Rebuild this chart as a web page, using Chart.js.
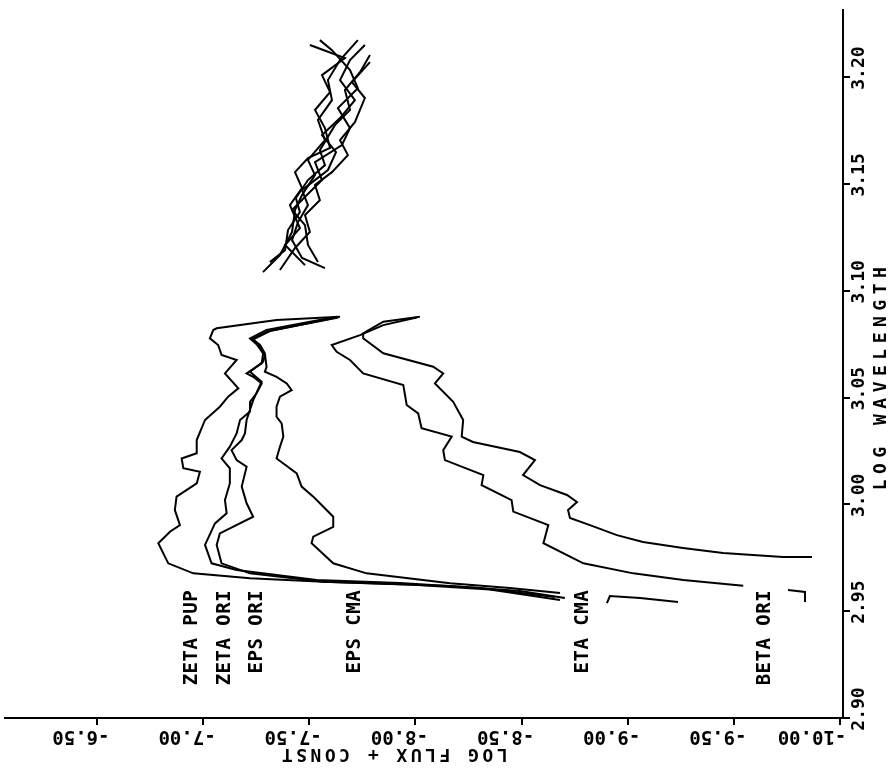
<!DOCTYPE html>
<html>
<head>
<meta charset="utf-8">
<script src="https://cdn.jsdelivr.net/npm/chart.js@4/dist/chart.umd.min.js"></script>
<style>
html,body{margin:0;padding:0;background:#fff;}
canvas{display:block;}
</style>
</head>
<body>
<canvas id="c" width="892" height="775"></canvas>
<script>
// ---- axis ticks ----
const fluxTicks = [-6.5, -7.0, -7.5, -8.0, -8.5, -9.0, -9.5, -10.0];
const fluxTickLabels = ['-6.50', '-7.00', '-7.50', '-8.00', '-8.50', '-9.00', '-9.50', '-10.00'];
const wavTicks = [2.90, 2.95, 3.00, 3.05, 3.10, 3.15, 3.20];
const wavTickLabels = ['2.90', '2.95', '3.00', '3.05', '3.10', '3.15', '3.20'];

// ---- star names and label anchors ----
const starNames = ['ZETA PUP', 'ZETA ORI', 'EPS ORI', 'EPS CMA', 'ETA CMA', 'BETA ORI'];
const labelFlux = [-6.947, -7.103, -7.254, -7.715, -8.789, -9.647];
const labelWav = 2.960;

// ---- short-wavelength spectra ----
const zetaPupWav = [3.0878,3.0863,3.0824,3.0816,3.0777,3.0746,3.0699,3.0676,3.0613,3.0543,3.0504,3.0457,3.0395,3.0301,3.0239,3.0215,3.0169,3.0153,3.0098,3.0036,2.9973,2.9903,2.9872,2.9818,2.9724,2.9677,2.9654,2.9638,2.9618,2.9594,2.9562];
const zetaPupFlux = [-7.645,-7.346,-7.064,-7.048,-7.032,-7.071,-7.087,-7.158,-7.103,-7.166,-7.118,-7.079,-7.009,-6.970,-6.970,-6.899,-6.907,-6.985,-6.970,-6.875,-6.867,-6.891,-6.844,-6.789,-6.836,-6.954,-7.221,-7.566,-8.163,-8.492,-8.704];

const zetaOriWav = [3.0878,3.0816,3.0777,3.0750,3.0707,3.0660,3.0613,3.0597,3.0566,3.0520,3.0480,3.0434,3.0395,3.0332,3.0270,3.0215,3.0169,3.0098,3.0020,2.9958,2.9911,2.9810,2.9724,2.9693,2.9646,2.9632,2.9608,2.9566];
const zetaOriFlux = [-7.629,-7.299,-7.221,-7.252,-7.283,-7.276,-7.205,-7.236,-7.276,-7.252,-7.221,-7.221,-7.174,-7.158,-7.126,-7.087,-7.126,-7.126,-7.103,-7.111,-7.056,-7.009,-7.040,-7.158,-7.535,-7.927,-8.304,-8.657];

const epsOriWav = [3.0875,3.0813,3.0774,3.0750,3.0699,3.0668,3.0621,3.0601,3.0574,3.0488,3.0395,3.0332,3.0301,3.0254,3.0207,3.0176,3.0083,3.0005,2.9942,2.9864,2.9810,2.9724,2.9677,2.9638,2.9625,2.9601,2.9552];
const epsOriFlux = [-7.637,-7.315,-7.229,-7.260,-7.291,-7.283,-7.221,-7.244,-7.276,-7.236,-7.205,-7.197,-7.182,-7.134,-7.158,-7.205,-7.182,-7.205,-7.236,-7.079,-7.064,-7.087,-7.221,-7.566,-7.974,-8.351,-8.681];

const epsCmaWav = [3.0873,3.0811,3.0772,3.0746,3.0707,3.0644,3.0621,3.0597,3.0566,3.0535,3.0504,3.0457,3.0410,3.0379,3.0317,3.0270,3.0215,3.0145,3.0083,3.0036,3.0005,2.9942,2.9895,2.9849,2.9818,2.9724,2.9677,2.9631,2.9608,2.9585];
const epsCmaFlux = [-7.621,-7.315,-7.236,-7.268,-7.291,-7.299,-7.291,-7.346,-7.394,-7.417,-7.362,-7.346,-7.346,-7.370,-7.378,-7.362,-7.346,-7.441,-7.464,-7.519,-7.550,-7.613,-7.613,-7.519,-7.511,-7.613,-7.770,-8.163,-8.445,-8.681];

const etaCmaWav = [3.0875,3.0839,3.0792,3.0746,3.0714,3.0676,3.0613,3.0558,3.0465,3.0426,3.0356,3.0317,3.0254,3.0207,3.0137,3.0090,3.0020,2.9966,2.9903,2.9818,2.9724,2.9677,2.9646,2.9619];
const etaCmaFlux = [-8.006,-7.849,-7.739,-7.606,-7.629,-7.692,-7.754,-7.943,-7.959,-8.013,-8.029,-8.171,-8.131,-8.139,-8.320,-8.312,-8.453,-8.461,-8.626,-8.603,-8.791,-9.026,-9.262,-9.544];
const etaCmaFragWav = [2.9538,2.9571,2.9562,2.9543];
const etaCmaFragFlux = [-8.902,-8.916,-9.058,-9.237];

const betaOriWav = [3.0878,3.0855,3.0800,3.0777,3.0707,3.0644,3.0613,3.0566,3.0480,3.0395,3.0317,3.0292,3.0245,3.0207,3.0137,3.0090,3.0044,3.0011,2.9973,2.9936,2.9903,2.9856,2.9824,2.9796,2.9772,2.9754,2.9754];
const betaOriFlux = [-8.021,-7.849,-7.754,-7.754,-7.849,-8.084,-8.131,-8.092,-8.178,-8.225,-8.218,-8.271,-8.492,-8.563,-8.507,-8.587,-8.714,-8.761,-8.719,-8.728,-8.822,-8.949,-9.072,-9.260,-9.449,-9.731,-9.868];
const betaOriFragWav = [2.9599,2.9590,2.9543];
const betaOriFragFlux = [-9.755,-9.835,-9.835];

// ---- long-wavelength spectra (overlapping) ----
const zetaPupLongWav = [3.1087,3.1167,3.1275,3.1378,3.1448,3.1541,3.1612,3.1705,3.1799,3.1892,3.1986,3.2080,3.2173];
const zetaPupLongFlux = [-7.282,-7.362,-7.419,-7.433,-7.466,-7.527,-7.494,-7.574,-7.541,-7.607,-7.588,-7.645,-7.729];
const zetaOriLongWav = [3.1134,3.1190,3.1284,3.1368,3.1434,3.1518,3.1588,3.1658,3.1775,3.1846,3.1939,3.2023,3.2103];
const zetaOriLongFlux = [-7.315,-7.386,-7.400,-7.456,-7.437,-7.494,-7.574,-7.550,-7.621,-7.692,-7.668,-7.739,-7.786];
const epsOriLongWav = [3.1106,3.1153,3.1237,3.1321,3.1401,3.1471,3.1565,3.1649,3.1729,3.1808,3.1892,3.1986,3.2080,3.2150];
const epsOriLongFlux = [-7.574,-7.466,-7.419,-7.447,-7.494,-7.466,-7.588,-7.626,-7.560,-7.645,-7.715,-7.645,-7.692,-7.762];
const epsCmaLongWav = [3.1134,3.1214,3.1307,3.1378,3.1462,3.1518,3.1602,3.1682,3.1761,3.1855,3.1948,3.2033,3.2126,3.2173];
const epsCmaLongFlux = [-7.541,-7.494,-7.480,-7.419,-7.503,-7.560,-7.527,-7.654,-7.692,-7.635,-7.729,-7.692,-7.607,-7.550];
const etaCmaLongWav = [3.1097,3.1200,3.1275,3.1354,3.1424,3.1495,3.1555,3.1635,3.1705,3.1789,3.1902,3.1977,3.2070];
const etaCmaLongFlux = [-7.362,-7.433,-7.503,-7.480,-7.550,-7.527,-7.607,-7.682,-7.645,-7.715,-7.762,-7.701,-7.786];
const betaOriLongWav = [3.1120,3.1214,3.1293,3.1401,3.1480,3.1555,3.1621,3.1668,3.1761,3.1846,3.1930,3.2009,3.2089,3.2150];
const betaOriLongFlux = [-7.480,-7.386,-7.456,-7.409,-7.466,-7.433,-7.494,-7.598,-7.574,-7.527,-7.598,-7.560,-7.668,-7.503];

const segments = [
  [zetaPupFlux, zetaPupWav], [zetaOriFlux, zetaOriWav], [epsOriFlux, epsOriWav],
  [epsCmaFlux, epsCmaWav], [etaCmaFlux, etaCmaWav], [betaOriFlux, betaOriWav],
  [etaCmaFragFlux, etaCmaFragWav], [betaOriFragFlux, betaOriFragWav],
  [zetaPupLongFlux, zetaPupLongWav], [zetaOriLongFlux, zetaOriLongWav], [epsOriLongFlux, epsOriLongWav],
  [epsCmaLongFlux, epsCmaLongWav], [etaCmaLongFlux, etaCmaLongWav], [betaOriLongFlux, betaOriLongWav]
];

const FONT = '"DejaVu Sans Mono", "Liberation Mono", monospace';

function drawRot(c, text, x, y, ang, align, spacing) {
  c.save();
  c.translate(x, y);
  c.rotate(ang);
  c.textAlign = align;
  c.textBaseline = 'middle';
  if ('letterSpacing' in c) c.letterSpacing = spacing || '0px';
  c.fillText(text, 0, 0);
  c.restore();
}

const textPlugin = {
  id: 'rotatedText',
  afterDraw(chart) {
    const c = chart.ctx;
    const xs = chart.scales.x, ys = chart.scales.y;
    c.save();
    c.fillStyle = '#000';
    // bottom tick labels (upside down)
    c.font = 'bold 19px ' + FONT;
    fluxTicks.forEach((v, i) => {
      const lab = fluxTickLabels[i];
      const px = xs.getPixelForValue(v);
      drawRot(c, lab, px - 16 - (lab.length - 5) * 12, 736, Math.PI, 'center');
    });
    // right tick labels (reading upward)
    c.font = 'bold 18px ' + FONT;
    wavTicks.forEach((v, i) => {
      const py = ys.getPixelForValue(v);
      drawRot(c, wavTickLabels[i], 859, py - 9, -Math.PI / 2, 'center');
    });
    // axis titles
    c.font = 'bold 18px ' + FONT;
    drawRot(c, 'LOG FLUX + CONST', 393, 754, Math.PI, 'center', '3.5px');
    drawRot(c, 'LOG WAVELENGTH', 881, 376, -Math.PI / 2, 'center', '5.5px');
    // star labels
    c.font = 'bold 19px ' + FONT;
    starNames.forEach((n, i) => {
      drawRot(c, n, xs.getPixelForValue(labelFlux[i]), ys.getPixelForValue(labelWav), -Math.PI / 2, 'right', '0.5px');
    });
    c.restore();
  }
};

new Chart(document.getElementById('c'), {
  type: 'scatter',
  data: {
    datasets: segments.map(([f, w]) => ({
      data: f.map((v, i) => ({ x: v, y: w[i] })),
      showLine: true,
      borderColor: '#000',
      borderWidth: 2,
      pointRadius: 0,
      fill: false,
      tension: 0
    }))
  },
  options: {
    responsive: false,
    animation: false,
    events: [],
    devicePixelRatio: 1,
    layout: { padding: { left: 5, top: 10, right: 0, bottom: 0 } },
    plugins: { legend: { display: false }, tooltip: { enabled: false } },
    scales: {
      x: {
        type: 'linear', position: 'bottom', reverse: true,
        min: -10.014, max: -6.067,
        afterBuildTicks: s => { s.ticks = fluxTicks.map(v => ({ value: v })); },
        afterFit: s => { s.height = 57; },
        ticks: { display: false },
        grid: { drawOnChartArea: false, drawTicks: true, tickLength: 7, color: '#000', lineWidth: 2 },
        border: { display: true, color: '#000', width: 2 }
      },
      y: {
        type: 'linear', position: 'right',
        min: 2.90, max: 3.2314,
        afterBuildTicks: s => { s.ticks = wavTicks.map(v => ({ value: v })); },
        afterFit: s => { s.width = 49; },
        ticks: { display: false },
        grid: { drawOnChartArea: false, drawTicks: true, tickLength: 7, color: '#000', lineWidth: 2 },
        border: { display: true, color: '#000', width: 2 }
      }
    }
  },
  plugins: [textPlugin]
});
</script>
</body>
</html>
